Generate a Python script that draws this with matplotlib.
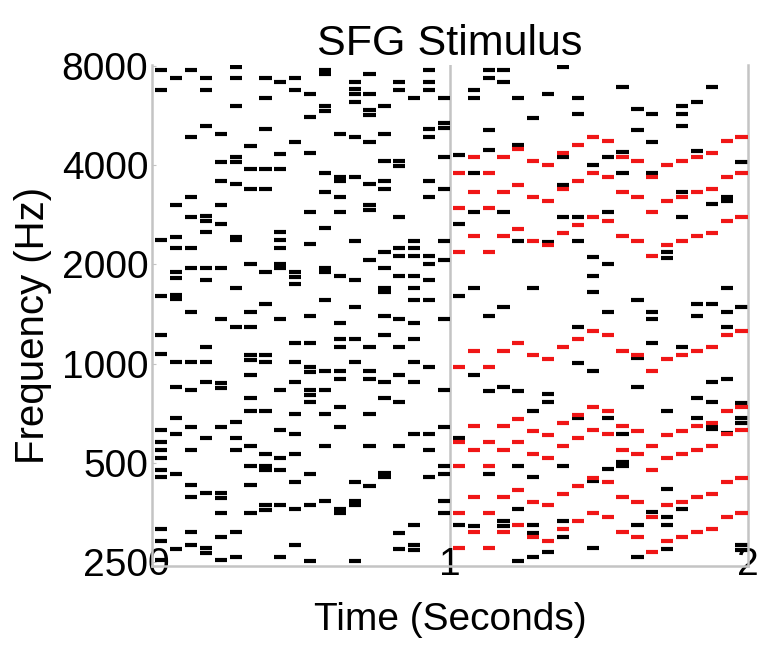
import matplotlib
matplotlib.use("Agg")
import matplotlib.pyplot as plt
import matplotlib.transforms as mtransforms
from matplotlib.ticker import FixedLocator, NullLocator

plt.rcParams['font.family'] = ['Liberation Sans', 'DejaVu Sans']

# ---------------- data ----------------
chunk_onsets_s = [0.00, 0.05, 0.10, 0.15, 0.20, 0.25, 0.30, 0.35, 0.40, 0.45,
                  0.50, 0.55, 0.60, 0.65, 0.70, 0.75, 0.80, 0.85, 0.90, 0.95,
                  1.00, 1.05, 1.10, 1.15, 1.20, 1.25, 1.30, 1.35, 1.40, 1.45,
                  1.50, 1.55, 1.60, 1.65, 1.70, 1.75, 1.80, 1.85, 1.90, 1.95]
chunk_duration_s = 0.05

# background (black) tones per chunk, Hz
ground_hz = [
    [7782, 6767, 2372, 1607, 1221, 1067, 629, 579, 547, 518, 476, 451, 315, 290, 253],
    [7343, 3029, 2427, 2238, 1893, 1815, 1615, 1571, 1009, 851, 682, 612, 462, 274],
    [7782, 4861, 3197, 2791, 2238, 1947, 1437, 1009, 832, 643, 547, 428, 393, 308, 282],
    [7343, 6767, 5272, 2811, 2715, 2503, 1947, 1794, 1121, 1009, 878, 593, 404, 275, 266],
    [4975, 4099, 3583, 3029, 2647, 1947, 1363, 872, 842, 643, 405, 392, 353, 298, 253],
    [7961, 7343, 6063, 4236, 4099, 3501, 2422, 2367, 1700, 1289, 666, 593, 547, 308, 259],
    [4584, 3896, 3388, 2001, 1437, 1289, 1062, 1025, 924, 788, 720, 562, 490, 428, 353],
    [7343, 6412, 5151, 3896, 3388, 1901, 1517, 1062, 1009, 720, 532, 490, 476, 371, 360],
    [7170, 4335, 3896, 2507, 2372, 2238, 2001, 1947, 1363, 832, 629, 518, 476, 372, 259],
    [7343, 6767, 4714, 1893, 1836, 1741, 1157, 1009, 878, 702, 612, 532, 438, 361, 282],
    [6580, 5590, 4347, 2879, 2301, 1398, 1157, 977, 945, 830, 803, 763, 463, 372, 252],
    [7798, 7567, 6050, 5855, 3797, 3311, 2585, 1947, 1893, 1563, 952, 832, 702, 562, 383],
    [4985, 3692, 3583, 3210, 2879, 1849, 1325, 1188, 1121, 952, 898, 740, 643, 362, 351],
    [7170, 6800, 6580, 6235, 4861, 3677, 2360, 1794, 1482, 1188, 1009, 438, 382, 371, 252],
    [7567, 6580, 5871, 5681, 4714, 3501, 3023, 2931, 2062, 1121, 952, 898, 702, 562, 426],
    [6063, 4985, 4119, 3583, 3388, 2176, 1947, 1696, 1650, 1398, 1221, 878, 788, 466, 452],
    [7170, 6781, 4119, 3986, 2791, 2238, 2117, 1849, 1363, 1121, 924, 763, 562, 307, 274],
    [6412, 2360, 2238, 2117, 1849, 1700, 1563, 1325, 1188, 1009, 878, 612, 324, 281, 272],
    [7782, 7170, 6781, 5151, 4861, 3583, 3210, 2117, 2006, 1794, 1563, 979, 612, 547, 452],
    [6412, 5383, 5176, 4227, 3388, 2360, 2062, 1363, 832, 643, 490, 463, 383, 353],
    [4296, 2647, 1607, 593, 324],
    [6781, 6412, 3797, 2879, 1700, 924, 321],
    [7782, 7343, 5126, 4458, 1398, 828, 462],
    [7782, 7140, 2879, 1482, 851, 333, 321],
    [6412, 4597, 2360, 828, 490, 361, 252],
    [5575, 1700, 720, 451, 324, 306, 259],
    [6580, 2344, 807, 763, 268],
    [7961, 4245, 3484, 2791, 490, 333, 298],
    [6412, 5721, 2791, 2360, 1289, 1006, 685],
    [4006, 2110, 1845, 1653, 952, 440, 275],
    [4227, 2879, 2006, 1437, 682, 477],
    [6924, 4380, 3797, 612, 503, 488],
    [5912, 5126, 1563, 1038, 851, 324, 259],
    [5721, 4714, 3789, 1437, 1363, 1152, 354],
    [2186, 2091, 720, 416, 342, 324, 274],
    [6063, 5721, 5272, 3318, 2791, 1121, 361],
    [6235, 4414, 1520, 1398, 788, 682],
    [6924, 3044, 1520, 878, 763, 651, 632],
    [3204, 3109, 1700, 1437, 1289, 898, 615],
    [4099, 1482, 758, 682, 662, 281, 272],
]

# figure (red) tones for chunks 20..39, Hz
figure_hz = [
    [275, 351, 490, 577, 979, 2175, 2959, 3795],
    [308, 393, 548, 645, 1095, 2433, 3310, 4245],
    [275, 351, 490, 577, 979, 2175, 2959, 3795],
    [308, 393, 548, 645, 1095, 2433, 3310, 4245],
    [324, 413, 577, 679, 1152, 2560, 3483, 4467],
    [298, 381, 532, 626, 1062, 2360, 3211, 4118],
    [290, 371, 517, 609, 1033, 2295, 3122, 4003],
    [315, 402, 561, 661, 1121, 2490, 3387, 4344],
    [333, 425, 593, 698, 1185, 2633, 3582, 4594],
    [352, 450, 627, 739, 1253, 2785, 3789, 4859],
    [343, 438, 611, 720, 1221, 2714, 3692, 4735],
    [308, 393, 548, 645, 1095, 2433, 3310, 4245],
    [298, 381, 532, 626, 1062, 2360, 3211, 4118],
    [268, 342, 476, 561, 952, 2116, 2878, 3692],
    [290, 371, 517, 609, 1033, 2295, 3122, 4003],
    [298, 381, 532, 626, 1062, 2360, 3211, 4118],
    [308, 393, 548, 645, 1095, 2433, 3310, 4245],
    [315, 402, 561, 661, 1121, 2490, 3387, 4344],
    [343, 438, 611, 720, 1221, 2714, 3692, 4735],
    [352, 450, 627, 739, 1253, 2785, 3789, 4859],
]
figure_start_chunk = 20

y_ticks = [250, 500, 1000, 2000, 4000, 8000]
y_tick_labels = ['250', '500', '1000', '2000', '4000', '8000']
x_ticks = [0, 1, 2]
x_tick_labels = ['0', '1', '2']

# ---------------- plot ----------------
fig = plt.figure(figsize=(7.59, 6.54), dpi=100)
ax = fig.add_axes([0.2009, 0.1346, 0.7842, 0.766])
ax.set_yscale('log')
ax.set_xlim(0, 2)
ax.set_ylim(243, 8060)

gap = 0.009
for t0, tones in zip(chunk_onsets_s, ground_hz):
    ax.hlines(tones, t0 + gap, t0 + chunk_duration_s, colors='black', lw=3.0, zorder=2)
for t0, tones in zip(chunk_onsets_s[figure_start_chunk:], figure_hz):
    ax.hlines(tones, t0 + gap, t0 + chunk_duration_s, colors='#f01616', lw=3.0, zorder=3)

ax.axvline(1, color='#c4c4c4', lw=1.8, zorder=1)

ax.yaxis.set_major_locator(FixedLocator(y_ticks))
ax.yaxis.set_minor_locator(NullLocator())
ax.set_yticklabels(y_tick_labels)
ax.set_xticks(x_ticks)
ax.set_xticklabels(x_tick_labels)

for side in ['left', 'right', 'bottom']:
    ax.spines[side].set_color('#c4c4c4')
    ax.spines[side].set_linewidth(1.8)
ax.spines['top'].set_visible(False)

ax.tick_params(axis='y', direction='in', length=3, color='#c4c4c4', pad=3, labelsize=28)
ax.tick_params(axis='x', length=0, pad=-14, labelsize=28)

# nudge the "0" time label slightly right, as in the reference
first_xlabel = ax.get_xticklabels()[0]
first_xlabel.set_transform(first_xlabel.get_transform() +
                           mtransforms.ScaledTranslation(6 / 100, 0, fig.dpi_scale_trans))

ax.set_xlabel('Time (Seconds)', fontsize=28)
ax.xaxis.label.set_va('center')
ax.xaxis.set_label_coords(0.5, -0.108)
ax.set_ylabel('Frequency (Hz)', fontsize=29)
ax.yaxis.label.set_va('center')
ax.yaxis.set_label_coords(-0.20, 0.48)
ax.set_title('SFG Stimulus', fontsize=31, pad=7)

fig.savefig('out.png', dpi=100)
